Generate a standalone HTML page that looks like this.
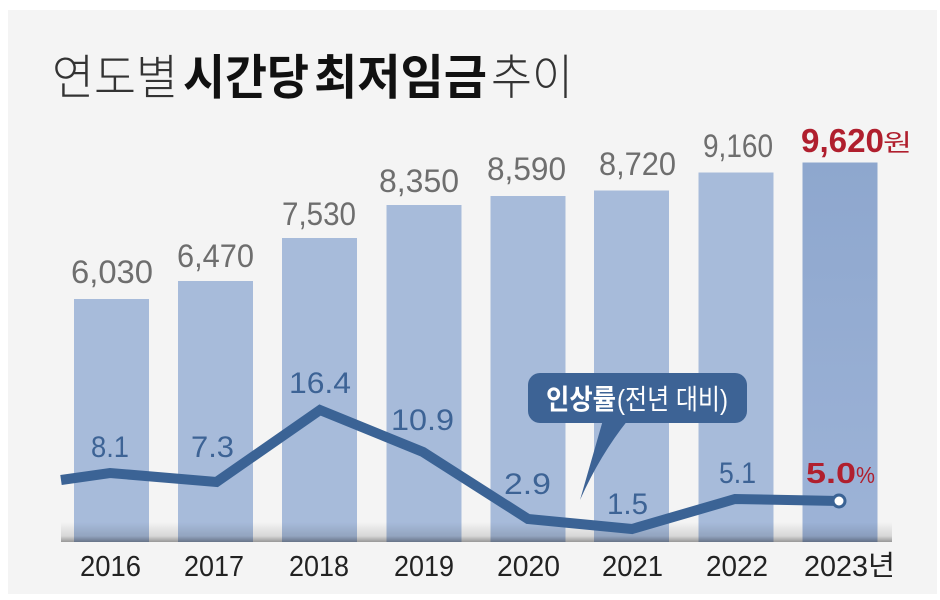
<!DOCTYPE html>
<html>
<head>
<meta charset="utf-8">
<style>
  html,body{margin:0;padding:0;background:#ffffff;}
  svg{display:block;}
  .num{font-family:"Liberation Sans","Noto Sans CJK KR",sans-serif;}
  .kr{font-family:"Liberation Sans","Noto Sans CJK KR",sans-serif;}
</style>
</head>
<body>
<svg width="940" height="600" viewBox="0 0 940 600" xmlns="http://www.w3.org/2000/svg">
  <defs>
    <linearGradient id="shadow" x1="0" y1="0" x2="0" y2="1">
      <stop offset="0" stop-color="#000" stop-opacity="0"/>
      <stop offset="0.7" stop-color="#000" stop-opacity="0.12"/>
      <stop offset="1" stop-color="#000" stop-opacity="0.38"/>
    </linearGradient>
    <linearGradient id="lastbar" x1="0" y1="0" x2="0" y2="1">
      <stop offset="0" stop-color="#8ea7ce"/>
      <stop offset="1" stop-color="#9db3d7"/>
    </linearGradient>
  </defs>

  <!-- panel -->
  <rect x="0" y="0" width="940" height="600" fill="#ffffff"/>
  <rect x="8" y="10" width="929" height="584" fill="#f4f4f4"/>

  <!-- title -->
  <text class="kr" x="52" y="94" font-size="48" font-weight="300" fill="#333333" textLength="126" lengthAdjust="spacingAndGlyphs">연도별</text>
  <text class="kr" x="183" y="94" font-size="48" font-weight="700" fill="#111" textLength="126" lengthAdjust="spacingAndGlyphs">시간당</text>
  <text class="kr" x="314" y="94" font-size="48" font-weight="700" fill="#111" textLength="173" lengthAdjust="spacingAndGlyphs">최저임금</text>
  <text class="kr" x="491" y="94" font-size="48" font-weight="300" fill="#333333" textLength="82" lengthAdjust="spacingAndGlyphs">추이</text>

  <!-- bars -->
  <rect x="74" y="299" width="75" height="243" fill="#a7bbda"/>
  <rect x="178" y="281" width="75" height="261" fill="#a7bbda"/>
  <rect x="282" y="238" width="75" height="304" fill="#a7bbda"/>
  <rect x="386.5" y="205" width="75" height="337" fill="#a7bbda"/>
  <rect x="490.5" y="196" width="75" height="346" fill="#a7bbda"/>
  <rect x="594" y="190.5" width="75" height="351.5" fill="#a7bbda"/>
  <rect x="698.5" y="172.5" width="75" height="369.5" fill="#a7bbda"/>
  <rect x="802.5" y="162.5" width="75" height="379.5" fill="url(#lastbar)"/>

  <!-- bottom shadow -->
  <rect x="61" y="522" width="831" height="20" fill="url(#shadow)"/>

  <!-- bar values -->
  <g class="num" font-size="32" fill="#6e6e6e">
    <text x="71" y="283" textLength="82" lengthAdjust="spacingAndGlyphs">6,030</text>
    <text x="177" y="267" textLength="77" lengthAdjust="spacingAndGlyphs">6,470</text>
    <text x="282" y="225" textLength="74" lengthAdjust="spacingAndGlyphs">7,530</text>
    <text x="379" y="192" textLength="80" lengthAdjust="spacingAndGlyphs">8,350</text>
    <text x="487" y="180" textLength="79" lengthAdjust="spacingAndGlyphs">8,590</text>
    <text x="599" y="175" textLength="77" lengthAdjust="spacingAndGlyphs">8,720</text>
    <text x="703" y="157" textLength="70" lengthAdjust="spacingAndGlyphs">9,160</text>
  </g>
  <text class="num" x="801" y="152" font-size="33" font-weight="700" fill="#b01f2e" textLength="83" lengthAdjust="spacingAndGlyphs">9,620</text>
  <text class="kr" x="883" y="151" font-size="24" fill="#b01f2e" textLength="29" lengthAdjust="spacingAndGlyphs">원</text>

  <!-- callout -->
  <path d="M603 420 L580 500 Q600 455 628 420 Z" fill="#3d6395"/>
  <rect x="528" y="373" width="219" height="50" rx="12" ry="12" fill="#3d6395"/>
  <text class="kr" x="546" y="409" font-size="28" font-weight="700" fill="#ffffff" textLength="70" lengthAdjust="spacingAndGlyphs">인상률</text>
  <text class="kr" x="617" y="409" font-size="28" font-weight="400" fill="#ffffff" textLength="111" lengthAdjust="spacingAndGlyphs">(전년 대비)</text>

  <!-- line -->
  <polyline points="61,480 110,473 216.5,482 320,410 423,452 528,519 632,529 735,499 839,501"
            fill="none" stroke="#3b6395" stroke-width="10" stroke-linejoin="miter" stroke-miterlimit="4"/>
  <circle cx="839" cy="501" r="6" fill="#ffffff" stroke="#3b6395" stroke-width="3"/>

  <!-- percent labels -->
  <g class="num" font-size="30" fill="#3d6395">
    <text x="91" y="457" textLength="38" lengthAdjust="spacingAndGlyphs">8.1</text>
    <text x="191" y="457" textLength="43" lengthAdjust="spacingAndGlyphs">7.3</text>
    <text x="289" y="393" textLength="62" lengthAdjust="spacingAndGlyphs">16.4</text>
    <text x="391" y="430" textLength="63" lengthAdjust="spacingAndGlyphs">10.9</text>
    <text x="504" y="494" textLength="47" lengthAdjust="spacingAndGlyphs">2.9</text>
    <text x="607" y="514" textLength="41" lengthAdjust="spacingAndGlyphs">1.5</text>
    <text x="719" y="483" textLength="37" lengthAdjust="spacingAndGlyphs">5.1</text>
  </g>
  <text class="num" x="806" y="483" font-size="29" font-weight="700" fill="#b01f2e" textLength="50" lengthAdjust="spacingAndGlyphs">5.0</text>
  <text class="num" x="856" y="483" font-size="23" fill="#b01f2e" textLength="19" lengthAdjust="spacingAndGlyphs">%</text>

  <!-- years -->
  <g class="num" font-size="29" fill="#222222">
    <text x="80" y="576" textLength="61" lengthAdjust="spacingAndGlyphs">2016</text>
    <text x="184" y="576" textLength="60" lengthAdjust="spacingAndGlyphs">2017</text>
    <text x="289" y="576" textLength="60" lengthAdjust="spacingAndGlyphs">2018</text>
    <text x="394" y="576" textLength="60" lengthAdjust="spacingAndGlyphs">2019</text>
    <text x="497" y="576" textLength="63" lengthAdjust="spacingAndGlyphs">2020</text>
    <text x="602" y="576" textLength="61" lengthAdjust="spacingAndGlyphs">2021</text>
    <text x="706" y="576" textLength="62" lengthAdjust="spacingAndGlyphs">2022</text>
    <text x="804" y="576" textLength="64" lengthAdjust="spacingAndGlyphs">2023</text>
  </g>
  <text class="kr" x="868" y="575" font-size="28" fill="#222222" textLength="27" lengthAdjust="spacingAndGlyphs">년</text>
</svg>
</body>
</html>
